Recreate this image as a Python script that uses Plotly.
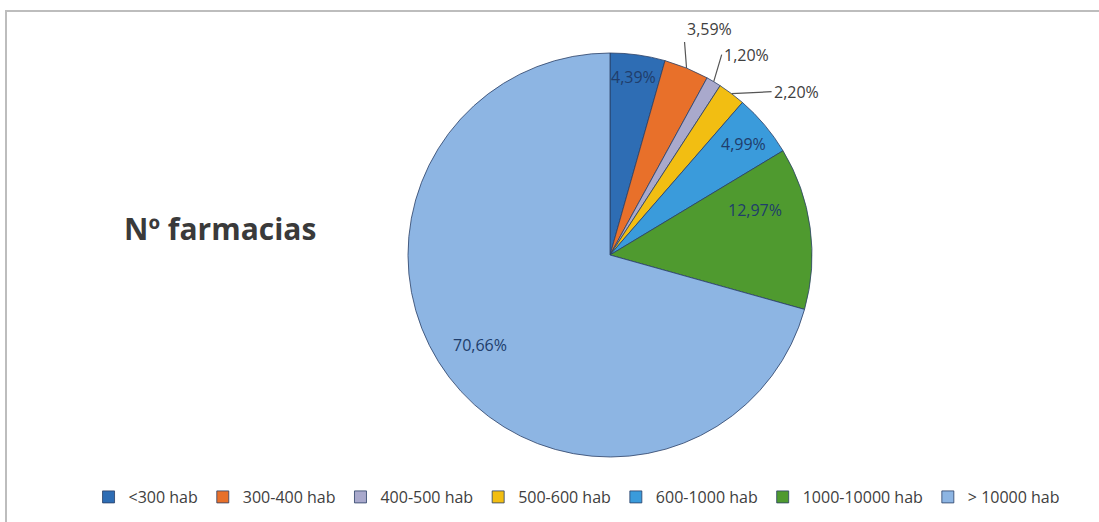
import math
import plotly.graph_objects as go

categories = ["<300 hab", "300-400 hab", "400-500 hab", "500-600 hab",
              "600-1000 hab", "1000-10000 hab", "> 10000 hab"]
values = [4.39, 3.59, 1.20, 2.20, 4.99, 12.97, 70.66]
value_labels = ["4,39%", "3,59%", "1,20%", "2,20%", "4,99%", "12,97%", "70,66%"]
colors = ["#2E6DB4", "#E8702A", "#A9A9CC", "#F2BE12", "#3A9BDB", "#4F9A2F", "#8DB5E3"]

W, H = 1099, 522
cx, cy, R = 610, 255, 202

# label placement style (per slice): inside radius fraction & angular nudge, or leader-line offsets
label_style = {
    0: dict(kind="in", r=0.89, nudge=-0.5),
    1: dict(kind="out", ax=-2, ay=-26, xanchor="left", yanchor="bottom"),
    2: dict(kind="out", ax=8, ay=-27, xanchor="left", yanchor="middle"),
    3: dict(kind="out", ax=40, ay=-2, xanchor="left", yanchor="middle"),
    4: dict(kind="in", r=0.86, nudge=0.5),
    5: dict(kind="in", r=0.75, nudge=-9.5),
    6: dict(kind="in", r=0.78, nudge=2.5),
}

fig = go.Figure()
fig.add_trace(go.Pie(
    labels=categories,
    values=values,
    textinfo="none",
    marker=dict(colors=colors, line=dict(color="#2A3F66", width=0.8)),
    sort=False,
    direction="clockwise",
    rotation=0,
    domain=dict(x=[(cx - R) / W, (cx + R) / W], y=[1 - (cy + R) / H, 1 - (cy - R) / H]),
    showlegend=True,
))

total = sum(values)
cum = 0.0
annotations = []
for i, v in enumerate(values):
    mid_deg = 360.0 * (cum + v / 2) / total
    cum += v
    st = label_style[i]
    if st["kind"] == "in":
        a = math.radians(mid_deg + st["nudge"])
        px = cx + st["r"] * R * math.sin(a)
        py = cy - st["r"] * R * math.cos(a)
        annotations.append(dict(
            x=px / W, y=1 - py / H, xref="paper", yref="paper", showarrow=False,
            xanchor="center", yanchor="middle", text=value_labels[i],
            font=dict(family="Open Sans", size=16, color="#203D6B"),
        ))
    else:
        a = math.radians(mid_deg)
        px = cx + R * math.sin(a)
        py = cy - R * math.cos(a)
        annotations.append(dict(
            x=px / W, y=1 - py / H, xref="paper", yref="paper",
            text=value_labels[i], showarrow=True, arrowhead=0, arrowwidth=1.2,
            arrowcolor="#555555", ax=st["ax"], ay=st["ay"],
            xanchor=st["xanchor"], yanchor=st["yanchor"],
            font=dict(family="Open Sans", size=16, color="#404040"),
        ))

annotations.append(dict(
    x=220 / W, y=1 - 229 / H, xref="paper", yref="paper", showarrow=False,
    xanchor="center", yanchor="middle",
    text="<b>Nº farmacias</b>",
    font=dict(family="Open Sans", size=30, color="#3A3A3A"),
))

fig.update_layout(
    width=W, height=H,
    margin=dict(l=0, r=0, t=0, b=0),
    paper_bgcolor="white",
    plot_bgcolor="white",
    annotations=annotations,
    legend=dict(
        orientation="h", x=0.5246, xanchor="center", y=1 - 497 / H, yanchor="middle",
        font=dict(family="Open Sans", size=16, color="#404040"),
        itemwidth=30, tracegroupgap=0,
    ),
    shapes=[dict(type="rect", xref="paper", yref="paper",
                 x0=6 / W, x1=1.02, y0=-0.02, y1=1 - 11 / H,
                 line=dict(color="#BDBDBD", width=2))],
)

fig.write_html("out.html", config={"displayModeBar": False},
               post_script="document.body.style.margin='0px';")
